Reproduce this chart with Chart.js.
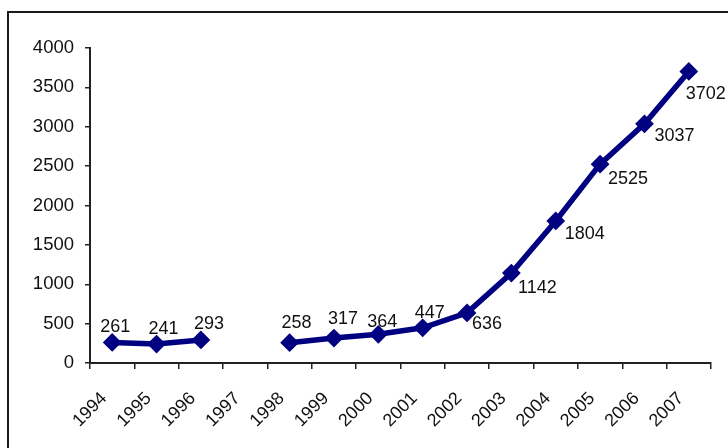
<!DOCTYPE html>
<html>
<head>
<meta charset="utf-8">
<script src="https://cdn.jsdelivr.net/npm/chart.js@4/dist/chart.umd.min.js"></script>
<style>
  html, body { margin: 0; padding: 0; background: #fff; }
  #wrap { width: 728px; height: 448px; position: relative; }
</style>
</head>
<body>
<div id="wrap"><canvas id="c" width="728" height="448"></canvas></div>
<script>
// Yearly figures; 1997 has no value, so the line breaks there.
const years = ['1994','1995','1996','1997','1998','1999','2000','2001','2002','2003','2004','2005','2006','2007'];
const values = [261, 241, 293, null, 258, 317, 364, 447, 636, 1142, 1804, 2525, 3037, 3702];
const yTicks = [0, 500, 1000, 1500, 2000, 2500, 3000, 3500, 4000];

// Where each value label sits relative to its point (dx, dy in px).
const labelShift = [
  [3,-15],[7,-15],[8,-16],[0,0],[7,-20],[9,-19],[4,-12],[7,-15],
  [20,11],[26,15],[29,13],[28,15],[30,12],[17,23]
];

const FONT = '"Liberation Sans", Arial, sans-serif';
const NAVY = '#000080';

// White page with the outer frame (top and left edges show).
const framePlugin = {
  id: 'frame',
  beforeDraw(chart) {
    const ctx = chart.ctx;
    ctx.save();
    ctx.fillStyle = '#fff';
    ctx.fillRect(0, 0, chart.width, chart.height);
    ctx.strokeStyle = '#1a1a1a';
    ctx.lineWidth = 2;
    ctx.strokeRect(8, 12, chart.width + 40, chart.height + 40);
    ctx.restore();
  }
};

// Value labels beside each point.
const valueLabels = {
  id: 'valueLabels',
  afterDatasetsDraw(chart) {
    const ctx = chart.ctx;
    const meta = chart.getDatasetMeta(0);
    const data = chart.data.datasets[0].data;
    ctx.save();
    ctx.font = '18px ' + FONT;
    ctx.fillStyle = '#111';
    ctx.textAlign = 'center';
    ctx.textBaseline = 'middle';
    meta.data.forEach((pt, i) => {
      const v = data[i];
      if (v === null || v === undefined) return;
      const s = labelShift[i];
      ctx.fillText(String(v), pt.x + s[0], pt.y + s[1]);
    });
    ctx.restore();
  }
};

new Chart(document.getElementById('c'), {
  type: 'line',
  data: {
    labels: years,
    datasets: [{
      data: values,
      borderColor: NAVY,
      backgroundColor: NAVY,
      borderWidth: 5.5,
      pointStyle: 'rectRot',
      pointRadius: 5.5,
      pointHoverRadius: 5.5,
      pointBackgroundColor: NAVY,
      pointBorderColor: NAVY,
      tension: 0,
      spanGaps: false
    }]
  },
  options: {
    responsive: false,
    animation: false,
    events: [],
    layout: { padding: { left: 0, right: 17, top: 48, bottom: 0 } },
    plugins: { legend: { display: false }, tooltip: { enabled: false } },
    scales: {
      x: {
        type: 'category',
        offset: true,
        grid: { offset: true, drawOnChartArea: false, drawTicks: true, tickLength: 6, color: '#222', lineWidth: 1.5 },
        border: { display: true, color: '#222', width: 2 },
        ticks: {
          color: '#111',
          font: { family: FONT, size: 18 },
          minRotation: 45, maxRotation: 45,
          autoSkip: false,
          padding: 19,
          labelOffset: -8
        },
        afterFit(scale) { scale.height = 85; }
      },
      y: {
        min: 0, max: 4000,
        afterBuildTicks(scale) { scale.ticks = yTicks.map(v => ({ value: v })); },
        grid: { drawOnChartArea: false, drawTicks: true, tickLength: 5, color: '#222', lineWidth: 1.5 },
        border: { display: true, color: '#222', width: 2 },
        ticks: {
          color: '#111',
          font: { family: FONT, size: 18.5 },
          padding: 11,
          callback: (v) => String(v)
        },
        afterFit(scale) { scale.width = 90; }
      }
    }
  },
  plugins: [framePlugin, valueLabels]
});
</script>
</body>
</html>
